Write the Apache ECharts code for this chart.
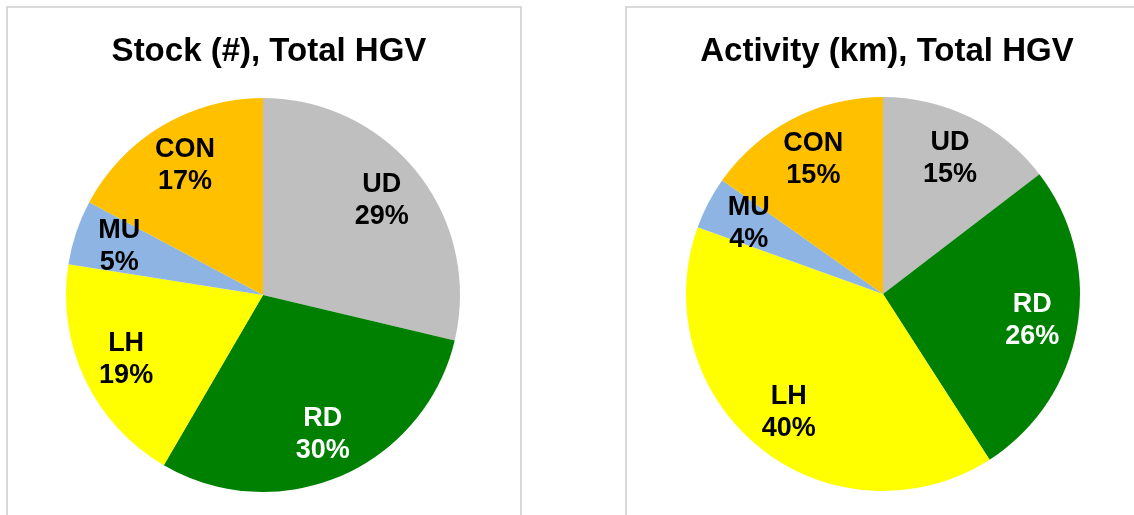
<!DOCTYPE html>
<html>
<head>
<meta charset="utf-8">
<title>HGV stock and activity</title>
<script src="https://cdn.jsdelivr.net/npm/echarts@6/dist/echarts.min.js"></script>
<style>
  html, body { margin: 0; padding: 0; background: #fff; }
  #main { width: 1134px; height: 515px; }
</style>
</head>
<body>
<div id="main"></div>
<script>
// segments, clockwise from 12 o'clock
const categories = ['UD', 'RD', 'LH', 'MU', 'CON'];
const stockShare = [28.7, 29.7, 19.1, 5.3, 17.2];      // Stock (#), %
const activityShare = [14.6, 26.3, 39.6, 4.3, 15.2];   // Activity (km), %
const sliceColors = ['#BFBFBF', '#008000', '#FFFF00', '#8DB4E2', '#FFC000'];
const labelColors = ['#000', '#fff', '#000', '#000', '#000'];

const FONT = '"Liberation Sans", Arial, sans-serif';
const R = 197;

function pieData(values, withLabel) {
  return categories.map((name, i) => ({
    name: name,
    value: values[i],
    itemStyle: { color: withLabel ? 'transparent' : sliceColors[i] },
    label: { color: labelColors[i] },
  }));
}

function pieSeries(values, center) {
  return [
    {
      type: 'pie',
      center: center,
      radius: [0, R],
      startAngle: 90,
      silent: true,
      label: { show: false },
      labelLine: { show: false },
      data: pieData(values, false),
    },
    {
      // transparent ring that only carries the labels further out
      type: 'pie',
      center: center,
      radius: [100, R],
      startAngle: 90,
      silent: true,
      percentPrecision: 0,
      label: {
        show: true,
        position: 'inside',
        formatter: '{b}\n{d}%',
        fontFamily: FONT,
        fontWeight: 'bold',
        fontSize: 27,
        lineHeight: 32,
      },
      labelLine: { show: false },
      data: pieData(values, true),
    },
  ];
}

const chart = echarts.init(document.getElementById('main'), null, { renderer: 'canvas' });

const option = {
  animation: false,
  backgroundColor: '#fff',
  title: [
    {
      text: 'Stock (#), Total HGV',
      left: 264, top: 30, textAlign: 'center',
      textStyle: { fontFamily: FONT, fontWeight: 'bold', fontSize: 33, color: '#000' },
    },
    {
      text: 'Activity (km), Total HGV',
      left: 882, top: 30, textAlign: 'center',
      textStyle: { fontFamily: FONT, fontWeight: 'bold', fontSize: 33, color: '#000' },
    },
  ],
  graphic: [
    {
      type: 'rect',
      shape: { x: 7, y: 7, width: 514, height: 520 },
      style: { fill: 'none', stroke: '#D9D9D9', lineWidth: 2 },
    },
    {
      type: 'rect',
      shape: { x: 626, y: 7, width: 520, height: 520 },
      style: { fill: 'none', stroke: '#D9D9D9', lineWidth: 2 },
    },
  ],
  series: [
    ...pieSeries(stockShare, [263, 295]),
    ...pieSeries(activityShare, [883, 294]),
  ],
};

chart.setOption(option);
</script>
</body>
</html>
